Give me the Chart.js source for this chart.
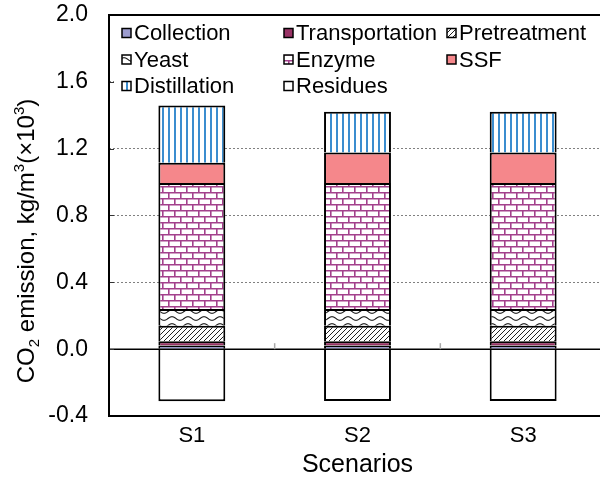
<!DOCTYPE html>
<html>
<head>
<meta charset="utf-8">
<script src="https://cdn.jsdelivr.net/npm/chart.js@4.4.1/dist/chart.umd.min.js"></script>
<style>
  html, body { margin: 0; padding: 0; overflow: hidden; background: #fff; }
  #wrap { width: 606px; height: 478px; }
</style>
</head>
<body>
<div id="wrap"><canvas id="co2Chart"></canvas></div>
<script>
const scenarios = ["S1", "S2", "S3"];
const collection = [0.022, 0.022, 0.022];
const transportation = [0.026, 0.026, 0.026];
const pretreatment = [0.092, 0.092, 0.092];
const yeast = [0.100, 0.100, 0.100];
const enzyme = [0.755, 0.755, 0.755];
const ssf = [0.120, 0.182, 0.182];
const distillation = [0.344, 0.244, 0.244];
const residues = [-0.312, -0.310, -0.310];
const yTicks = [-0.4, 0.0, 0.4, 0.8, 1.2, 1.6, 2.0];

const FONT = "'Liberation Sans', Arial, sans-serif";

// small tiles used as bar fills
function makePattern(w, h, draw) {
    const c = document.createElement("canvas");
    c.width = w; c.height = h;
    const g = c.getContext("2d");
    g.fillStyle = "#fff";
    g.fillRect(0, 0, w, h);
    draw(g);
    return g.createPattern(c, "repeat");
}

const hatch = makePattern(5, 5, g => {
    g.strokeStyle = "#222"; g.lineWidth = 1;
    g.beginPath();
    g.moveTo(-1, 6); g.lineTo(6, -1);
    g.moveTo(-1, 1); g.lineTo(1, -1);
    g.moveTo(4, 6); g.lineTo(6, 4);
    g.stroke();
});
const wave = makePattern(16, 7, g => {
    g.strokeStyle = "#222"; g.lineWidth = 1.2;
    g.beginPath();
    for (let x = 0; x <= 16; x += 0.5) {
        const yy = 3.5 + 1.8 * Math.sin(x / 16 * Math.PI * 2);
        if (x === 0) g.moveTo(x, yy); else g.lineTo(x, yy);
    }
    g.stroke();
});
const brick = makePattern(12, 12, g => {
    g.strokeStyle = "#a3418c"; g.lineWidth = 1.6;
    g.beginPath();
    g.moveTo(0, 0.8); g.lineTo(12, 0.8);
    g.moveTo(0, 6.8); g.lineTo(12, 6.8);
    g.moveTo(0.8, 0); g.lineTo(0.8, 6.8);
    g.moveTo(6.8, 6.8); g.lineTo(6.8, 12);
    g.stroke();
});
const vlines = makePattern(6, 2, g => {
    g.fillStyle = "#3b8dcf";
    g.fillRect(0, 0, 2, 2);
});

const colCollection = "#9c9cce";
const colTransport = "#993366";
const colSSF = "#f5878b";

const legendColX = [122, 284, 447];
const legendRowY = [33, 59.5, 86];

const decor = {
    id: "decor",
    afterDatasetsDraw(chart) {
        const { ctx, chartArea: a, scales: { y } } = chart;
        const y0 = y.getPixelForValue(0);
        ctx.save();
        // zero line
        ctx.strokeStyle = "#000"; ctx.lineWidth = 1.5;
        ctx.beginPath(); ctx.moveTo(a.left, y0); ctx.lineTo(a.right, y0); ctx.stroke();
        // category boundary ticks on zero line
        const cw = (a.right - a.left) / scenarios.length;
        ctx.strokeStyle = "#aaa"; ctx.lineWidth = 1.5;
        for (let i = 1; i < scenarios.length; i++) {
            const px = a.left + cw * i;
            ctx.beginPath(); ctx.moveTo(px, y0); ctx.lineTo(px, y0 - 6); ctx.stroke();
        }
        // legend box
        ctx.fillStyle = "#fff";
        ctx.fillRect(a.left + 5, a.top + 1, a.right - a.left, 84);
        ctx.font = "22px " + FONT;
        ctx.textBaseline = "middle";
        ctx.textAlign = "left";
        chart.data.datasets.forEach((ds, i) => {
            const bx = legendColX[i % 3], cy = legendRowY[Math.floor(i / 3)];
            ctx.fillStyle = ds.backgroundColor;
            ctx.fillRect(bx, cy - 4.5, 9, 9);
            ctx.strokeStyle = "#000"; ctx.lineWidth = 1.5;
            ctx.strokeRect(bx, cy - 4.5, 9, 9);
            ctx.fillStyle = "#000";
            ctx.fillText(ds.label, bx + 12, cy + 1);
        });
        // inner y ticks
        ctx.strokeStyle = "#333"; ctx.lineWidth = 1;
        yTicks.forEach(v => {
            const py = Math.round(y.getPixelForValue(v)) + 0.5;
            ctx.beginPath(); ctx.moveTo(a.left, py); ctx.lineTo(a.left + 5, py); ctx.stroke();
        });
        // frame
        ctx.strokeStyle = "#000"; ctx.lineWidth = 2;
        ctx.strokeRect(a.left, a.top, a.right - a.left, a.bottom - a.top);
        ctx.restore();
    },
    afterDraw(chart) {
        // y title with sub/superscripts
        const ctx = chart.ctx;
        const parts = [["CO", 0], ["2", 1], [" emission, kg/m", 0], ["3", -1], ["(\u00d710", 0], ["3", -1], [")", 0]];
        const big = "24px " + FONT, small = "15px " + FONT;
        ctx.save();
        let total = 0;
        parts.forEach(p => { ctx.font = p[1] ? small : big; total += ctx.measureText(p[0]).width; });
        ctx.translate(34, 241);
        ctx.rotate(-Math.PI / 2);
        ctx.fillStyle = "#000";
        ctx.textBaseline = "alphabetic";
        let cx = -total / 2;
        parts.forEach(p => {
            ctx.font = p[1] ? small : big;
            const dy = p[1] === 1 ? 5 : (p[1] === -1 ? -10 : 0);
            ctx.fillText(p[0], cx, dy);
            cx += ctx.measureText(p[0]).width;
        });
        ctx.restore();
    }
};

const ds = (label, data, color) => ({
    label: label,
    data: data,
    backgroundColor: color,
    borderColor: "#000",
    borderWidth: 2,
    barPercentage: 0.404,
    categoryPercentage: 1
});

const ctx = document.getElementById("co2Chart").getContext("2d");
window.co2Chart = new Chart(ctx, {
    type: "bar",
    data: {
        labels: scenarios,
        datasets: [
            ds("Collection", collection, colCollection),
            ds("Transportation", transportation, colTransport),
            ds("Pretreatment", pretreatment, hatch),
            ds("Yeast", yeast, wave),
            ds("Enzyme", enzyme, brick),
            ds("SSF", ssf, colSSF),
            ds("Distillation", distillation, vlines),
            ds("Residues", residues, "#fff")
        ]
    },
    options: {
        responsive: true,
        maintainAspectRatio: false,
        animation: false,
        layout: { padding: { top: 15, left: 0, right: 0, bottom: 0 } },
        scales: {
            x: {
                stacked: true,
                grid: { display: false, drawTicks: false },
                border: { display: false },
                ticks: { color: "#000", font: { family: FONT, size: 22 }, padding: 7 },
                title: {
                    display: true, text: "Scenarios", color: "#000",
                    font: { family: FONT, size: 25, lineHeight: 1 },
                    padding: { top: 0, bottom: 0 }
                },
                afterFit: s => { s.height = 62; }
            },
            y: {
                stacked: true,
                min: -0.4,
                max: 2.0,
                afterBuildTicks: s => { s.ticks = yTicks.map(v => ({ value: v })); },
                grid: {
                    drawTicks: false,
                    lineWidth: 1,
                    color: c => (c.tick && c.tick.value > 0.1 && c.tick.value < 1.9) ? "#808080" : "rgba(0,0,0,0)"
                },
                border: { display: false, dash: [2, 2] },
                ticks: {
                    color: "#000",
                    font: { family: FONT, size: 23 },
                    padding: 21,
                    callback: v => v.toFixed(1)
                },
                afterFit: s => { s.width = 109; s.paddingTop = 0; s.paddingBottom = 0; }
            }
        },
        plugins: {
            legend: { display: false },
            tooltip: { enabled: false }
        }
    },
    plugins: [decor]
});
</script>
</body>
</html>
